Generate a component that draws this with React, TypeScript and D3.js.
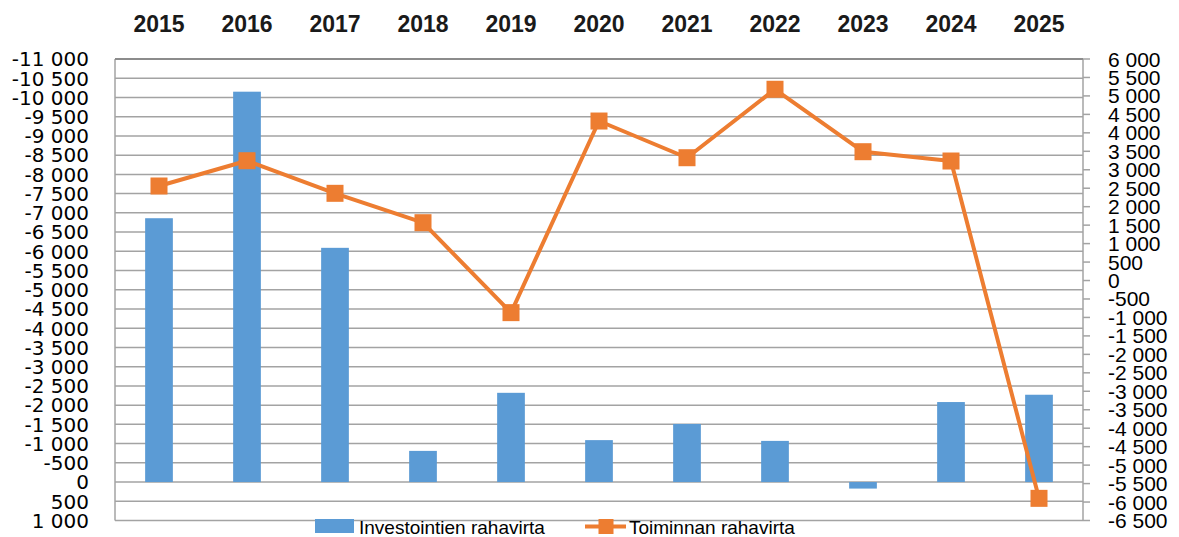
import React from "react";
import * as d3 from "d3";

const years = ["2015","2016","2017","2018","2019","2020","2021","2022","2023","2024","2025"];
const investointi = [-6860, -10150, -6090, -810, -2320, -1090, -1510, -1070, 170, -2080, -2270];
const toiminta = [2560, 3245, 2362, 1566, -870, 4320, 3326, 5180, 3489, 3237, -5900];
const leftTicks = d3.range(-11000, 1001, 500);
const rightTicks = d3.range(6000, -6501, -500);
const seriesNames = ["Investointien rahavirta", "Toiminnan rahavirta"];

const W = 1179, H = 537;
const plot = { left: 115, right: 1083, top: 59, bottom: 520.5 };
const FONT = "'Liberation Sans', Arial, sans-serif";
const FONT_L = "'DejaVu Sans', sans-serif";
const BLUE = "#5b9bd5";
const ORANGE = "#ed7d31";
const GRID = "#a3a3a3";

const fmt = (v: number) => {
  const s = Math.abs(v).toString().replace(/\B(?=(\d{3})+(?!\d))/g, " ");
  return (v < 0 ? "-" : "") + s;
};

export default function App() {
  const x = d3.scaleBand<string>().domain(years).range([plot.left, plot.right]).paddingInner(0.685).paddingOuter(0.3425);
  const xc = d3.scaleBand<string>().domain(years).range([plot.left, plot.right]);
  const yL = d3.scaleLinear().domain([-11000, 1000]).range([plot.top, plot.bottom]);
  const yR = d3.scaleLinear().domain([6000, -6500]).range([plot.top, plot.bottom]);
  const cx = (d: string) => (xc(d) as number) + xc.bandwidth() / 2;
  const line = d3.line<number>().x((_, i) => cx(years[i])).y((v) => yR(v));
  const ms = 17;

  return (
    <svg width={W} height={H} style={{ position: "absolute", left: 0, top: 0, background: "#fff" }}>
      <rect x={0} y={0} width={W} height={H} fill="#fff" />
      {leftTicks.map((t) => (
        <line key={"g" + t} x1={plot.left} x2={plot.right} y1={yL(t)} y2={yL(t)} stroke={GRID} strokeWidth={1.5} />
      ))}
      <line x1={plot.left} x2={plot.left} y1={plot.top} y2={plot.bottom} stroke={GRID} strokeWidth={1.5} />
      <line x1={plot.right} x2={plot.right} y1={plot.top} y2={plot.bottom} stroke={GRID} strokeWidth={1.5} />
      <line x1={plot.left} x2={plot.right} y1={plot.top} y2={plot.top} stroke="#8c8c8c" strokeWidth={1.8} />
      {rightTicks.map((t) => (
        <line key={"rt" + t} x1={plot.right} x2={plot.right + 7} y1={yR(t)} y2={yR(t)} stroke={GRID} strokeWidth={1.5} />
      ))}
      {leftTicks.map((t) => (
        <text key={"l" + t} x={89} y={yL(t) + 7.3} textAnchor="end" fontFamily={FONT_L} fontSize={20} fill="#000">{fmt(t)}</text>
      ))}
      {rightTicks.map((t) => (
        <text key={"r" + t} x={1108} y={yR(t) + 7.5} textAnchor="start" fontFamily={FONT} fontSize={21} fill="#000">{fmt(t)}</text>
      ))}
      {years.map((yv) => (
        <text key={"y" + yv} x={cx(yv)} y={32} textAnchor="middle" fontFamily={FONT} fontWeight="bold" fontSize={23} fill="#1a1a1a">{yv}</text>
      ))}
      {investointi.map((v, i) => (
        <rect key={"b" + i} x={x(years[i])} width={x.bandwidth()} y={Math.min(yL(v), yL(0))} height={Math.abs(yL(v) - yL(0))} fill={BLUE} />
      ))}
      <path d={line(toiminta) || ""} fill="none" stroke={ORANGE} strokeWidth={4} strokeLinejoin="round" />
      {toiminta.map((v, i) => (
        <rect key={"m" + i} x={cx(years[i]) - ms / 2} y={yR(v) - ms / 2} width={ms} height={ms} fill={ORANGE} />
      ))}
      <rect x={315} y={519} width={39} height={14} fill={BLUE} />
      <text x={359} y={534} fontFamily={FONT} fontSize={19} fill="#000">{seriesNames[0]}</text>
      <line x1={585} x2={626} y1={526.5} y2={526.5} stroke={ORANGE} strokeWidth={4} />
      <rect x={598.5} y={519} width={15} height={15} fill={ORANGE} />
      <text x={629} y={534} fontFamily={FONT} fontSize={19} fill="#000">{seriesNames[1]}</text>
    </svg>
  );
}
